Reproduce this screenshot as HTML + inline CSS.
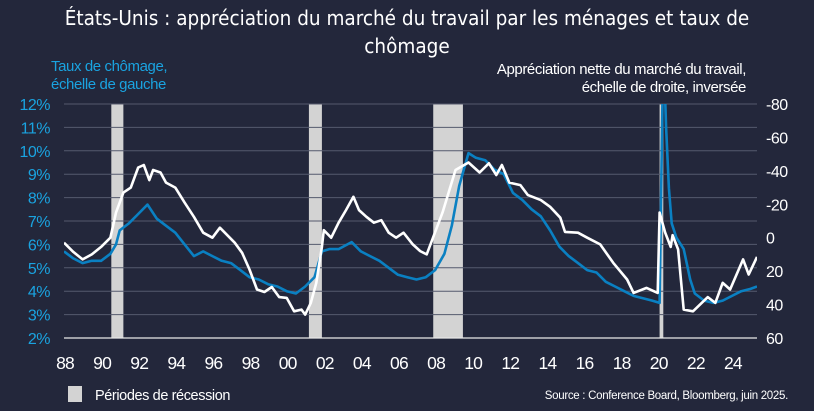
<!DOCTYPE html>
<html><head><meta charset="utf-8"><style>
html,body{margin:0;padding:0;background:#23273b;}
svg{display:block;font-family:"Liberation Sans",sans-serif;}
</style></head><body>
<svg id="chart" width="814" height="411" viewBox="0 0 814 411" xmlns="http://www.w3.org/2000/svg">
<rect width="814" height="411" fill="#23273b"/>
<text x="407" y="25" fill="#fff" font-size="20.5" text-anchor="middle" font-family="'DejaVu Sans Condensed','Liberation Sans',sans-serif">États-Unis : appréciation du marché du travail par les ménages et taux de</text>
<text x="407" y="53" fill="#fff" font-size="20.5" text-anchor="middle" font-family="'DejaVu Sans Condensed','Liberation Sans',sans-serif">chômage</text>
<text x="51" y="71" fill="#1aa3e0" font-size="15" letter-spacing="-0.4">Taux de chômage,</text>
<text x="51" y="89" fill="#1aa3e0" font-size="15" letter-spacing="-0.4">échelle de gauche</text>
<text x="746" y="74" fill="#fff" font-size="15" text-anchor="end" letter-spacing="-0.4">Appréciation nette du marché du travail,</text>
<text x="746" y="92" fill="#fff" font-size="15" text-anchor="end" letter-spacing="-0.4">échelle de droite, inversée</text>
<g id="recessions"></g>
<g id="grid"></g>
<g id="series"></g>
<g id="axes"></g>
<rect x="68" y="386" width="14" height="16" fill="#d3d3d3"/>
<text x="95" y="400" fill="#fff" font-size="14.5" letter-spacing="-0.4">Périodes de récession</text>
<text x="788" y="399" fill="#fff" font-size="11.5" text-anchor="end" letter-spacing="-0.3">Source : Conference Board, Bloomberg, juin 2025.</text>
</svg>
<script>
const recessionStarts=[1990.55,2001.2,2007.9,2020.1];
const recessionEnds=[1991.2,2001.9,2009.5,2020.3];
const leftTicks=[2,3,4,5,6,7,8,9,10,11,12];
const rightTicks=[-80,-60,-40,-20,0,20,40,60];
const xTickYears=[1988,1990,1992,1994,1996,1998,2000,2002,2004,2006,2008,2010,2012,2014,2016,2018,2020,2022,2024];
const unempDates=[1988,1988.5,1989,1989.5,1990,1990.5,1990.8,1991,1991.5,1992,1992.5,1993,1993.5,1994,1994.5,1995,1995.5,1996,1996.5,1997,1997.5,1998,1998.5,1999,1999.5,2000,2000.5,2001,2001.5,2001.9,2002.3,2002.8,2003.5,2004,2004.5,2005,2005.5,2006,2006.5,2007,2007.5,2008,2008.5,2008.9,2009.3,2009.8,2010.2,2010.7,2011.2,2011.7,2012.2,2012.7,2013.2,2013.7,2014.2,2014.7,2015.2,2015.7,2016.2,2016.7,2017.2,2017.7,2018.2,2018.7,2019.2,2019.7,2020.1,2020.3,2020.45,2020.6,2020.75,2021,2021.4,2021.75,2022,2022.5,2023,2023.5,2024,2024.5,2025,2025.35];
const unempValues=[5.7,5.4,5.2,5.3,5.3,5.6,6.0,6.6,6.9,7.3,7.7,7.1,6.8,6.5,6.0,5.5,5.7,5.5,5.3,5.2,4.9,4.6,4.5,4.3,4.2,4.0,3.9,4.2,4.6,5.7,5.8,5.8,6.1,5.7,5.5,5.3,5.0,4.7,4.6,4.5,4.6,4.9,5.6,6.8,8.5,9.9,9.7,9.6,9.2,9.0,8.2,7.9,7.5,7.2,6.6,5.9,5.5,5.2,4.9,4.8,4.4,4.2,4.0,3.8,3.7,3.6,3.5,14.7,11.0,8.4,6.9,6.3,5.8,4.5,3.9,3.6,3.5,3.6,3.8,4.0,4.1,4.2];
const diffDates=[1988,1988.5,1989,1989.5,1990,1990.5,1990.8,1991.2,1991.6,1992,1992.3,1992.6,1992.8,1993.2,1993.5,1994,1994.5,1995,1995.5,1996,1996.4,1996.8,1997.2,1997.6,1998,1998.4,1998.8,1999.2,1999.6,2000,2000.4,2000.8,2001,2001.3,2001.6,2001.9,2002,2002.4,2002.8,2003.2,2003.6,2003.9,2004.3,2004.7,2005.1,2005.5,2005.9,2006.3,2006.8,2007.2,2007.55,2007.8,2008.4,2009.1,2009.8,2010.4,2010.9,2011.3,2011.6,2012,2012.6,2013,2013.7,2014.2,2014.75,2015,2015.7,2016.2,2016.9,2017.6,2018.35,2018.7,2019.4,2020,2020.1,2020.4,2020.7,2020.8,2021.1,2021.4,2021.9,2022.7,2023.1,2023.5,2023.9,2024.6,2024.9,2025.35];
const diffValues=[3,8.5,13,10,5.5,0,-15,-27,-30,-42,-43.5,-34.5,-40.5,-39,-33,-30,-21,-12.5,-3,0,-6,-1.5,3,9,19,31,32.5,29.5,35.5,36,44,43,46,39,27,5.5,-4.5,0,-9,-16.5,-24.5,-16.5,-12.5,-9,-10.5,-3,0,-3,4,8,10,2.5,-15,-40.5,-45,-39,-44.5,-37.5,-43.5,-33,-31.5,-25.5,-22.5,-18.5,-12,-3.5,-3,0,4,15,25,33,30,33,-15,-3,5.5,-1.5,7,43,44,35.5,39,27,31,13,22,11.5];

const NS="http://www.w3.org/2000/svg";
const X0=64,X1=757,Y0=104,Y1=338;
function xScale(yr){return X0+(yr-1988)*(X1-X0)/(2025.35-1988);}
function yLeft(v){return Y1-(v-2)*(Y1-Y0)/10;}
function yRight(v){return Y0+(v+80)*(Y1-Y0)/140;}
function mk(tag,attrs,parent){const e=document.createElementNS(NS,tag);for(const k in attrs)e.setAttribute(k,attrs[k]);parent.appendChild(e);return e;}
const rec=document.getElementById('recessions'),grid=document.getElementById('grid'),ser=document.getElementById('series'),axes=document.getElementById('axes');
for(let i=0;i<recessionStarts.length;i++){
  const r=mk('rect',{x:xScale(recessionStarts[i]),y:Y0,width:Math.max(3,xScale(recessionEnds[i])-xScale(recessionStarts[i])),height:Y1-Y0,fill:'#d3d3d3'},rec);
  
  
}
leftTicks.forEach(t=>{
  const y=yLeft(t);
  if(t>2){const g=mk('line',{x1:X0,x2:X1,y1:y,y2:y,stroke:'#555a6e','stroke-width':1},grid);
  
  }
  const tx=mk('text',{x:50,y:y+6,fill:'#1aa3e0','font-size':16,'text-anchor':'end','letter-spacing':'-0.5'},axes);
  tx.textContent=t+'%';
  
  
});
rightTicks.forEach(t=>{
  const tx=mk('text',{x:766,y:yRight(t)+6,fill:'#fff','font-size':16,'letter-spacing':'-0.5'},axes);
  tx.textContent=t;
  
  
});
xTickYears.forEach(t=>{
  const tx=mk('text',{x:xScale(t)+1,y:369,fill:'#fff','font-size':17.5,'text-anchor':'middle','letter-spacing':'-0.8'},axes);
  tx.textContent=String(t).slice(2);
  
  
});
const ax=mk('line',{x1:X0,x2:X1,y1:Y1,y2:Y1,stroke:'#e8e8e8','stroke-width':1.2},axes);


mk('clipPath',{id:'plotclip'},ser).appendChild(Object.assign(document.createElementNS(NS,'rect'),{}));
const cr=ser.querySelector('clipPath rect');cr.setAttribute('x',X0);cr.setAttribute('y',Y0);cr.setAttribute('width',X1-X0);cr.setAttribute('height',Y1-Y0);
const pb=mk('path',{d:unempDates.map((d,i)=>(i?'L':'M')+xScale(d).toFixed(1)+','+yLeft(unempValues[i]).toFixed(1)).join(''),fill:'none',stroke:'#0a80c2','stroke-width':2.6,'stroke-linejoin':'round','clip-path':'url(#plotclip)'},ser);


const pw=mk('path',{d:diffDates.map((d,i)=>(i?'L':'M')+xScale(d).toFixed(1)+','+yRight(diffValues[i]).toFixed(1)).join(''),fill:'none',stroke:'#ffffff','stroke-width':2.6,'stroke-linejoin':'round','clip-path':'url(#plotclip)'},ser);


</script>
</body></html>
